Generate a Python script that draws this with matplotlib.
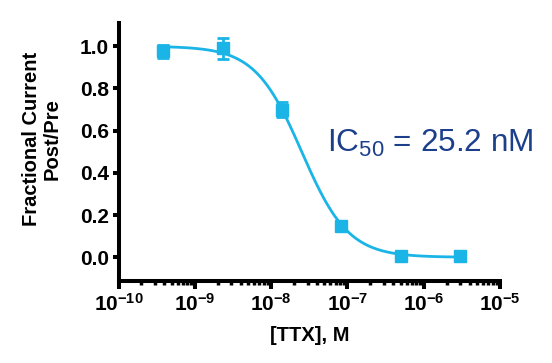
import numpy as np
import matplotlib
matplotlib.use("Agg")
import matplotlib.pyplot as plt
from matplotlib.ticker import LogLocator, NullFormatter

# Data (concentration in M, fractional current)
conc = [3.86e-10, 2.31e-9, 1.39e-8, 8.33e-8, 5.0e-7, 3.0e-6]
frac = [0.975, 0.99, 0.70, 0.15, 0.005, 0.005]
err = [0.03, 0.05, 0.035, 0.02, 0.01, 0.01]

# Fit parameters
ic50 = 25.2e-9
hill = 1.42
top = 1.0
bottom = 0.0

y_ticks = [0.0, 0.2, 0.4, 0.6, 0.8, 1.0]
x_decades = [1e-10, 1e-9, 1e-8, 1e-7, 1e-6, 1e-5]
x_labels = [r"$\mathbf{10^{-10}}$", r"$\mathbf{10^{-9}}$", r"$\mathbf{10^{-8}}$",
            r"$\mathbf{10^{-7}}$", r"$\mathbf{10^{-6}}$", r"$\mathbf{10^{-5}}$"]

color = "#1ab4e6"
text_color = "#1c3f8c"

plt.rcParams['font.family'] = ['Liberation Sans', 'DejaVu Sans']
plt.rcParams['mathtext.fontset'] = 'custom'
plt.rcParams['mathtext.rm'] = 'Liberation Sans'
plt.rcParams['mathtext.bf'] = 'Liberation Sans:bold'
plt.rcParams['mathtext.it'] = 'Liberation Sans:italic'

fig = plt.figure(figsize=(5.52, 3.63), dpi=100)
ax = fig.add_axes([118.5/552, (363-280.5)/363, (500-118.5)/552, (280.5-23)/363])

xs = np.logspace(np.log10(conc[0]), np.log10(conc[-1]), 400)
ys = bottom + (top - bottom) / (1 + (xs / ic50) ** hill)
ax.plot(xs, ys, color=color, lw=2, zorder=2)
ax.errorbar(conc, frac, yerr=err, fmt='s', color=color, ms=8, capsize=4,
            elinewidth=2, capthick=2, zorder=3)

ax.set_xscale('log')
ax.set_xlim(1e-10, 1e-5)
ax.set_ylim(-0.11, 1.11)
ax.set_xticks(x_decades)
ax.set_xticklabels(x_labels)
ax.xaxis.set_minor_locator(LogLocator(base=10, subs=np.arange(2, 10)))
ax.xaxis.set_minor_formatter(NullFormatter())
ax.set_yticks(y_ticks)
ax.set_yticklabels([f"{v:.1f}" for v in y_ticks])

for s in ['top', 'right']:
    ax.spines[s].set_visible(False)
for s in ['left', 'bottom']:
    ax.spines[s].set_linewidth(2.9)
    ax.spines[s].set_capstyle('projecting')
ax.tick_params(axis='y', which='major', width=2.9, length=4, labelsize=15, pad=3)
ax.tick_params(axis='x', which='major', width=2.9, length=6, labelsize=15, pad=3)
ax.tick_params(axis='x', which='minor', width=2.5, length=3)
for lbl in ax.get_yticklabels():
    lbl.set_fontweight('bold')

ax.set_xlabel("[TTX], M", fontsize=14.5, fontweight='bold', labelpad=8)
ax.set_ylabel("Fractional Current\nPost/Pre", fontsize=14.5, fontweight='bold',
              linespacing=1.15)
ax.yaxis.set_label_coords(-0.148, 0.55)

fig.text(327/552, (363-143)/363, r"IC$_{50}$ = 25.2 nM", fontsize=22.7,
         color=text_color, va='center', ha='left')

fig.savefig("out.png", dpi=100)
